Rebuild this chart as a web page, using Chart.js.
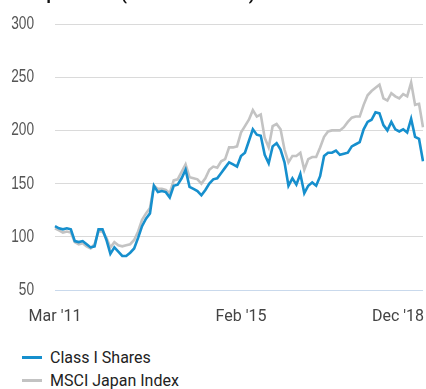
<!DOCTYPE html>
<html>
<head>
<meta charset="utf-8">
<script src="https://cdn.jsdelivr.net/npm/chart.js@4/dist/chart.umd.min.js"></script>
<style>
  html, body { margin: 0; padding: 0; background: #fff; }
  #wrap { position: relative; width: 426px; height: 389px; overflow: hidden; }
  #growthChart { display: block; }
  .legend { position: absolute; left: 22px; top: 346px; font-family: Roboto, "Noto Sans", sans-serif; font-size: 16px; color: #222; }
  .legend-item { height: 23px; line-height: 23px; white-space: nowrap; }
  .legend-swatch { display: inline-block; width: 20px; height: 3px; vertical-align: middle; margin-right: 8px; position: relative; top: -1px; }
</style>
</head>
<body>
<div id="wrap">
  <canvas id="growthChart" width="426" height="340"></canvas>
  <div class="legend" id="legend"></div>
</div>
<script>
// monthly points, Mar 2011 .. Dec 2018
const months = [
    '2011-03','2011-04','2011-05','2011-06','2011-07','2011-08','2011-09','2011-10','2011-11','2011-12',
    '2012-01','2012-02','2012-03','2012-04','2012-05','2012-06','2012-07','2012-08','2012-09','2012-10','2012-11','2012-12',
    '2013-01','2013-02','2013-03','2013-04','2013-05','2013-06','2013-07','2013-08','2013-09','2013-10','2013-11','2013-12',
    '2014-01','2014-02','2014-03','2014-04','2014-05','2014-06','2014-07','2014-08','2014-09','2014-10','2014-11','2014-12',
    '2015-01','2015-02','2015-03','2015-04','2015-05','2015-06','2015-07','2015-08','2015-09','2015-10','2015-11','2015-12',
    '2016-01','2016-02','2016-03','2016-04','2016-05','2016-06','2016-07','2016-08','2016-09','2016-10','2016-11','2016-12',
    '2017-01','2017-02','2017-03','2017-04','2017-05','2017-06','2017-07','2017-08','2017-09','2017-10','2017-11','2017-12',
    '2018-01','2018-02','2018-03','2018-04','2018-05','2018-06','2018-07','2018-08','2018-09','2018-10','2018-11','2018-12'
];

const classIShares = [
    110, 108, 107, 108, 107, 96, 95, 96, 93, 90,
    91, 107, 107, 97, 84, 90, 86, 82, 82, 85, 89, 99,
    110, 117, 122, 148, 142, 143, 142, 137, 148, 149, 155, 163,
    147, 145, 143, 139, 144, 150, 154, 155, 160, 165, 170, 168,
    166, 176, 179, 190, 201, 196, 195, 177, 169, 185, 188, 182,
    170, 148, 155, 149, 159, 141, 148, 151, 148, 157, 176, 179,
    179, 181, 177, 178, 179, 185, 187, 189, 201, 208, 210, 217,
    216, 205, 200, 208, 201, 199, 201, 198, 211, 194, 192, 171
];

const msciJapan = [
    108, 106, 104, 105, 104, 95, 93, 94, 91, 89,
    93, 105, 105, 99, 90, 95, 92, 91, 92, 93, 97, 105,
    116, 122, 127, 148, 145, 145, 144, 141, 153, 154, 161, 168,
    156, 155, 154, 150, 155, 163, 166, 165, 171, 173, 184, 184,
    185, 198, 204, 210, 219, 213, 215, 193, 184, 204, 206, 201,
    182, 170, 176, 176, 179, 163, 173, 175, 175, 184, 194, 199,
    200, 200, 200, 203, 208, 212, 213, 213, 224, 233, 237, 240,
    243, 230, 228, 235, 232, 230, 234, 232, 245, 224, 225, 203
];

const seriesNames = ['Class I Shares', 'MSCI Japan Index'];
const seriesColors = ['#168fcd', '#c3c3c3'];

const yTicks = [50, 100, 150, 200, 250, 300];
const xTickIndex = [0, 47, 93];
const xTickText = ["Mar '11", "Feb '15", "Dec '18"];

const textFont = 'Roboto, "Noto Sans", sans-serif';

// heading sits mostly above the canvas; only its lowest strokes show
const headingPlugin = {
    id: 'heading',
    afterDraw(chart) {
        const ctx = chart.ctx;
        ctx.save();
        ctx.fillStyle = '#111';
        ctx.font = 'bold 17px ' + textFont;
        ctx.textAlign = 'left';
        ctx.textBaseline = 'alphabetic';
        ctx.fillText('Japan Fund (USD Thousands)', 28, 0);
        ctx.restore();
    }
};

// y labels in a narrow face: squeeze the glyphs horizontally
const yLabelsPlugin = {
    id: 'yLabels',
    afterDraw(chart) {
        const ctx = chart.ctx;
        const y = chart.scales.y;
        ctx.save();
        ctx.fillStyle = '#555';
        ctx.font = '18px "Liberation Sans", Arimo, sans-serif';
        ctx.textAlign = 'right';
        ctx.textBaseline = 'middle';
        const squeeze = 0.76;
        yTicks.forEach(v => {
            const py = y.getPixelForValue(v);
            ctx.save();
            ctx.translate(34, py);
            ctx.scale(squeeze, 1);
            ctx.fillText(String(v), 0, 0);
            ctx.restore();
        });
        ctx.restore();
    }
};

// x labels: first two centred on their month, last one kept inside the plot
const xLabelsPlugin = {
    id: 'xLabels',
    afterDraw(chart) {
        const ctx = chart.ctx;
        const x = chart.scales.x;
        ctx.save();
        ctx.fillStyle = '#444';
        ctx.font = '16px ' + textFont;
        ctx.textBaseline = 'middle';
        xTickIndex.forEach((idx, i) => {
            const px = x.getPixelForValue(idx);
            const last = i === xTickIndex.length - 1;
            ctx.textAlign = last ? 'right' : 'center';
            ctx.fillText(xTickText[i], last ? px + 1 : px, 317);
        });
        ctx.restore();
    }
};

const ctx = document.getElementById('growthChart').getContext('2d');
const chart = new Chart(ctx, {
    type: 'line',
    data: {
        labels: months,
        datasets: [
            {
                label: seriesNames[1],
                data: msciJapan,
                borderColor: seriesColors[1],
                borderWidth: 2.6,
                pointRadius: 0,
                tension: 0,
                order: 2
            },
            {
                label: seriesNames[0],
                data: classIShares,
                borderColor: seriesColors[0],
                borderWidth: 2.6,
                pointRadius: 0,
                tension: 0,
                order: 1
            }
        ]
    },
    options: {
        responsive: false,
        animation: false,
        layout: { padding: { top: 24, right: 3, left: 0, bottom: 0 } },
        plugins: {
            legend: { display: false },
            tooltip: { enabled: false }
        },
        scales: {
            x: {
                type: 'category',
                offset: false,
                grid: { display: false },
                border: { display: false },
                ticks: { display: false },
                afterFit(scale) { scale.height = 50; }
            },
            y: {
                min: 50,
                max: 300,
                afterBuildTicks(scale) { scale.ticks = yTicks.map(v => ({ value: v })); },
                grid: {
                    drawTicks: false,
                    lineWidth: 1,
                    color: c => c.tick && c.tick.value === 50 ? '#c9d9ec' : '#dadada'
                },
                border: { display: false },
                ticks: { display: false },
                afterFit(scale) { scale.width = 55; }
            }
        }
    },
    plugins: [headingPlugin, yLabelsPlugin, xLabelsPlugin]
});

// legend below the plot, one row per series
const legendEl = document.getElementById('legend');
seriesNames.forEach((name, i) => {
    const row = document.createElement('div');
    row.className = 'legend-item';
    const sw = document.createElement('span');
    sw.className = 'legend-swatch';
    sw.style.background = seriesColors[i];
    row.appendChild(sw);
    row.appendChild(document.createTextNode(name));
    legendEl.appendChild(row);
});
</script>
</body>
</html>
